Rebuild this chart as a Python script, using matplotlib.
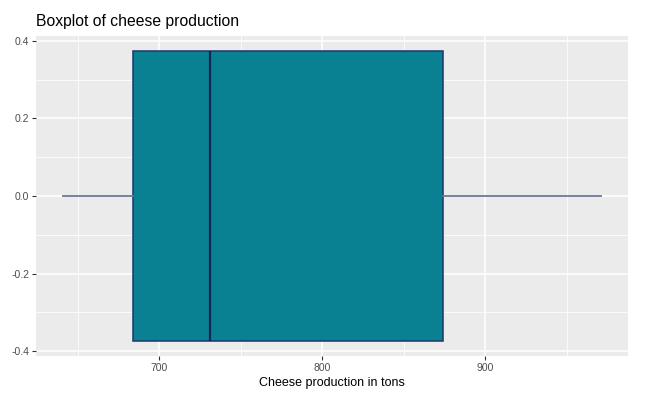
import matplotlib.pyplot as plt
import numpy as np

# Box statistics (tons)
whisker_low = 641
q1 = 684
median = 731
q3 = 874
whisker_high = 971

x_major = [700, 800, 900]
x_minor = [650, 750, 850, 950]
y_major = [-0.4, -0.2, 0.0, 0.2, 0.4]
y_minor = [-0.3, -0.1, 0.1, 0.3]

FILL = "#0a8193"
EDGE = "#1b3668"
WHISKER = "#6b7898"

plt.rcParams["font.family"] = ["Liberation Sans", "DejaVu Sans"]

fig = plt.figure(figsize=(6.47, 4.01), dpi=100)
ax = fig.add_axes([36 / 647, 45 / 401, 592 / 647, 320 / 401])
ax.set_facecolor("#ebebeb")

stats = [{
    "whislo": whisker_low, "q1": q1, "med": median, "q3": q3,
    "whishi": whisker_high, "fliers": [],
}]
ax.bxp(
    stats, positions=[0], widths=0.75, orientation="horizontal",
    showcaps=False, patch_artist=True, manage_ticks=False,
    boxprops=dict(facecolor=FILL, edgecolor=EDGE, linewidth=1.1),
    medianprops=dict(color="#0d2557", linewidth=1.6),
    whiskerprops=dict(color=WHISKER, linewidth=1.3),
    zorder=3,
)

span = whisker_high - whisker_low
ax.set_xlim(whisker_low - 0.05 * span, whisker_high + 0.05 * span)
ax.set_ylim(-0.375 - 0.0375, 0.375 + 0.0375)

ax.set_xticks(x_major)
ax.set_xticks(x_minor, minor=True)
ax.set_yticks(y_major)
ax.set_yticks(y_minor, minor=True)
ax.set_yticklabels([f"{v:.1f}" for v in y_major])
ax.grid(which="major", color="white", linewidth=1.1, zorder=0)
ax.grid(which="minor", color="white", linewidth=0.55, zorder=0)
ax.set_axisbelow(True)

for s in ax.spines.values():
    s.set_visible(False)
ax.tick_params(which="major", length=3, width=0.8, color="#333333",
               labelcolor="#4d4d4d", labelsize=7.5, pad=2)
ax.tick_params(which="minor", length=0)

ax.set_xlabel("Cheese production in tons", fontsize=9, color="black", labelpad=3)
ax.set_title("Boxplot of cheese production", loc="left", fontsize=11.3,
             color="black", pad=7)

fig.savefig("out.png", dpi=100)
